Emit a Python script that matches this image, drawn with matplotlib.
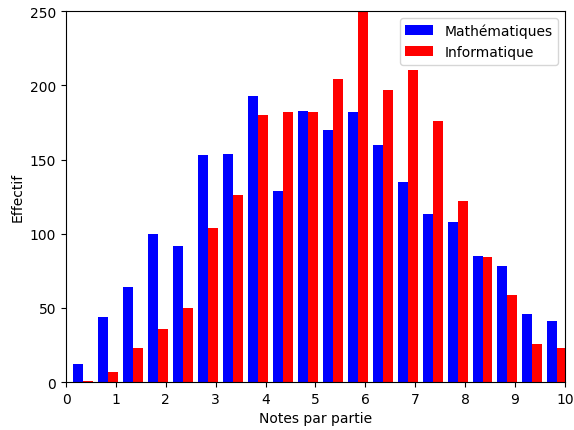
import numpy as np
from matplotlib import pyplot as plt

# effectifs par classe de 0.5 point
bord_classes = 0.1 + 0.5 * np.arange(21)
centres = (bord_classes[:-1] + bord_classes[1:]) / 2
maths = [12, 44, 64, 100, 92, 153, 154, 193, 129, 183,
         170, 182, 160, 135, 113, 108, 85, 78, 46, 41]
info = [1, 7, 23, 36, 50, 104, 126, 180, 182, 182,
        204, 258, 197, 210, 176, 122, 84, 59, 26, 23]
etiquettes = ['Mathématiques', 'Informatique']


def trace():
    fig = plt.figure(figsize=(5.74, 4.31), dpi=100)
    ax = fig.add_axes([0.115, 0.111, 0.869, 0.861])
    ax.hist([centres, centres], bins=bord_classes, weights=[maths, info],
            color=['blue', 'red'], label=etiquettes)
    ax.set_xlim(0, 10)
    ax.set_ylim(0, 250)
    ax.set_xticks(range(11))
    ax.set_xlabel('Notes par partie')
    ax.set_ylabel('Effectif')
    ax.legend(loc='upper right')
    fig.savefig('out.png', dpi=100)


if __name__ == "__main__":
    trace()
